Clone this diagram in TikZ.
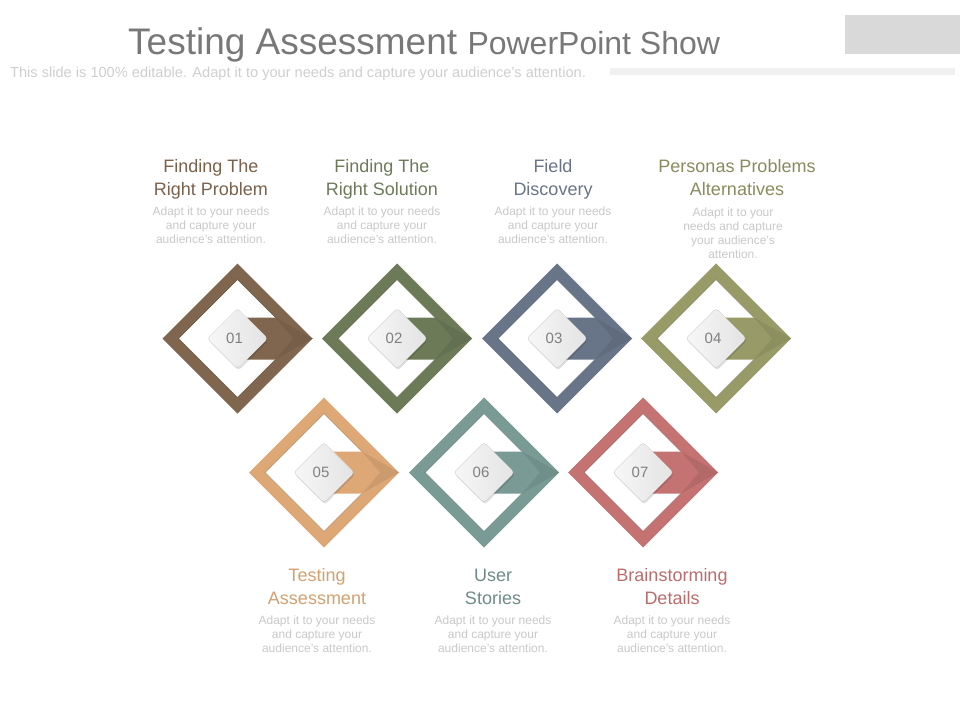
\documentclass[tikz,border=0pt]{standalone}
\usepackage{fontspec}
\setmainfont{Liberation Sans}

\definecolor{braun}{RGB}{128,102,78}
\definecolor{oliv}{RGB}{108,122,88}
\definecolor{schiefer}{RGB}{104,117,136}
\definecolor{khaki}{RGB}{152,155,104}
\definecolor{sand}{RGB}{222,168,118}
\definecolor{salbei}{RGB}{122,154,150}
\definecolor{rosa}{RGB}{196,114,114}
\definecolor{grautext}{RGB}{120,120,120}
\definecolor{hellgrau}{RGB}{200,200,200}

\tikzset{
	titel/.style={text=#1, font=\fontsize{18}{23}\selectfont, align=center, inner sep=0pt, anchor=base},
	info/.style={text=hellgrau, font=\fontsize{12}{14}\selectfont, align=center, inner sep=0pt, anchor=base},
	zahl/.style={text=gray, font=\fontsize{15}{15}\selectfont, inner sep=0pt}
}

% Raute: x, y, Farbe, Nummer
\newcommand{\raute}[4]{%
	\begin{scope}[shift={(#1,#2)}]
		\fill[#3] (-75,0) -- (0,-75) -- (75,0) -- (0,75) -- cycle;
		\filldraw[fill=white, draw=#3!80!black] (-59,0) -- (0,-59) -- (59,0) -- (0,59) -- cycle;
		\fill[#3] (8,-21) -- (38,-21) -- (75,0) -- (38,21) -- (8,21) -- cycle;
		\fill[#3!92!black] (38,-21) -- (75,0) -- (38,21) -- (56,0) -- cycle;
		\fill[black, opacity=0.12, rounded corners=3pt] (-29,2) -- (1,-28) -- (31,2) -- (1,32) -- cycle;
		\filldraw[rounded corners=3pt, draw=gray!15, left color=gray!6, right color=gray!22] (-30,0) -- (0,-30) -- (30,0) -- (0,30) -- cycle;
		\node[zahl] (n#4) at (-3,0) {#4};
	\end{scope}}

\begin{document}
\begin{tikzpicture}[x=1pt, y=-1pt]
\useasboundingbox (0,0) rectangle (960,720);

% Kopfzeile
\node[anchor=base west, inner sep=0pt, text=grautext] (kopf) at (128,54)
	{\fontsize{37}{37}\selectfont Testing Assessment\ \fontsize{32}{32}\selectfont PowerPoint Show};
\node[anchor=base west, inner sep=0pt, text=hellgrau!90!white, font=\fontsize{14.6}{14.6}\selectfont] (unter) at (10,77)
	{This slide is 100\% editable. Adapt it to your needs and capture your audience's attention.};
\fill[gray!30] (845,15) rectangle (960,54);
\fill[gray!12] (610,68) rectangle (955,75);

% Rauten
\raute{237.5}{338.5}{braun}{01}
\raute{397}{338.5}{oliv}{02}
\raute{557}{338.5}{schiefer}{03}
\raute{716}{338.5}{khaki}{04}
\raute{324}{472.5}{sand}{05}
\raute{484}{472.5}{salbei}{06}
\raute{643}{472.5}{rosa}{07}

% Beschriftung oben
\node[titel=braun!95!black] (t1) at (211,195.5) {Finding The\\Right Problem};
\node[info] (i1) at (211,243) {Adapt it to your needs\\and capture your\\audience's attention.};
\node[titel=oliv] (t2) at (382,195.5) {Finding The\\Right Solution};
\node[info] (i2) at (382,243) {Adapt it to your needs\\and capture your\\audience's attention.};
\node[titel=schiefer] (t3) at (553,195.5) {Field\\Discovery};
\node[info] (i3) at (553,243) {Adapt it to your needs\\and capture your\\audience's attention.};
\node[titel=khaki!90!black] (t4) at (737,195.5) {Personas Problems\\Alternatives};
\node[info] (i4) at (733,258) {Adapt it to your\\needs and capture\\your audience's\\attention.};

% Beschriftung unten
\node[titel=sand!95!black] (t5) at (317,604.5) {Testing\\Assessment};
\node[info] (i5) at (317,652) {Adapt it to your needs\\and capture your\\audience's attention.};
\node[titel=salbei!90!black] (t6) at (493,604.5) {User\\Stories};
\node[info] (i6) at (493,652) {Adapt it to your needs\\and capture your\\audience's attention.};
\node[titel=rosa!95!black] (t7) at (672,604.5) {Brainstorming\\Details};
\node[info] (i7) at (672,652) {Adapt it to your needs\\and capture your\\audience's attention.};
\end{tikzpicture}
\end{document}
